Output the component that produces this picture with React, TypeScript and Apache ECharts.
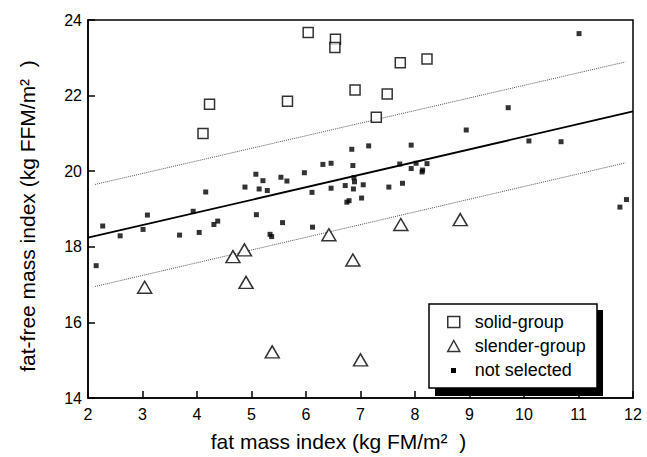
import React, { useEffect, useRef } from "react";
import * as echarts from "echarts";

const solidX = [6.04, 6.54, 6.53, 7.73, 8.22, 6.9, 7.49, 5.66, 7.29, 4.23, 4.11];
const solidY = [23.67, 23.49, 23.27, 22.87, 22.97, 22.15, 22.04, 21.85, 21.43, 21.77, 21.0];

const slenderX = [3.04, 4.66, 4.87, 4.9, 5.38, 6.42, 6.86, 7.0, 7.74, 8.83];
const slenderY = [16.93, 17.74, 17.92, 17.06, 15.22, 18.32, 17.65, 15.01, 18.59, 18.72];

const otherX = [
  2.15, 2.27, 2.59, 3.01, 3.09, 3.68, 3.93, 4.04, 4.16, 4.31, 4.38, 4.88, 5.08, 5.21, 5.14,
  5.29, 5.09, 5.34, 5.37, 5.54, 5.65, 5.57, 5.97, 6.11, 6.12, 6.31, 6.46, 6.46, 6.72, 6.84,
  6.86, 6.87, 6.88, 6.89, 6.75, 6.79, 7.02, 7.05, 7.15, 7.52, 7.72, 7.77, 7.93, 7.93, 8.02,
  8.13, 8.14, 8.22, 8.94, 9.71, 10.09, 10.68, 11.01, 11.76, 11.88,
];
const otherY = [
  17.5, 18.55, 18.29, 18.46, 18.84, 18.31, 18.94, 18.38, 19.45, 18.59, 18.68, 19.58, 19.92, 19.75, 19.53,
  19.49, 18.85, 18.33, 18.27, 19.84, 19.74, 18.64, 19.96, 19.44, 18.52, 20.18, 20.21, 19.55, 19.62, 20.58,
  20.15, 19.53, 19.83, 19.72, 19.18, 19.22, 19.29, 19.64, 20.67, 19.58, 20.19, 19.68, 20.69, 20.07, 20.21,
  19.98, 20.03, 20.2, 21.09, 21.68, 20.8, 20.78, 23.64, 19.05, 19.25,
];

const fitX = [2, 12];
const fitY = [18.24, 21.58];
const upperX = [2.13, 11.86];
const upperY = [19.65, 22.89];
const lowerX = [2.13, 11.86];
const lowerY = [16.95, 20.22];

const xTicks = [2, 3, 4, 5, 6, 7, 8, 9, 10, 11, 12];
const yTicks = [14, 16, 18, 20, 22, 24];

const seriesNames = ["solid-group", "slender-group", "not selected"];

const FONT = "'Liberation Sans', Arial, Helvetica, sans-serif";

const zip = (xs: number[], ys: number[]) => xs.map((x, i) => [x, ys[i]]);

export default function App() {
  const ref = useRef<HTMLDivElement>(null);
  useEffect(() => {
    if (!ref.current) return;
    const chart = echarts.init(ref.current, undefined, { renderer: "svg" });
    const hollow = { color: "#fff", borderColor: "#000", borderWidth: 1.5 };
    chart.setOption({
      animation: false,
      backgroundColor: "#fff",
      grid: {
        left: 88,
        right: 14,
        top: 20,
        bottom: 55,
        show: true,
        borderColor: "#000",
        borderWidth: 1.5,
        backgroundColor: "transparent",
      },
      xAxis: {
        type: "value",
        min: xTicks[0],
        max: xTicks[xTicks.length - 1],
        interval: 1,
        name: "fat mass index (kg FM/m\u00B2  )",
        nameLocation: "middle",
        nameGap: 33,
        nameTextStyle: { fontSize: 21, color: "#000", fontFamily: FONT, padding: [0, 44, 0, 0] },
        axisLine: { lineStyle: { color: "#000", width: 1.5 } },
        axisTick: { inside: true, length: 7, lineStyle: { color: "#000", width: 1.5 } },
        axisLabel: { fontSize: 16, color: "#000", fontFamily: FONT, margin: 8 },
        splitLine: { show: false },
      },
      yAxis: {
        type: "value",
        min: yTicks[0],
        max: yTicks[yTicks.length - 1],
        interval: 2,
        name: "fat-free mass index (kg FFM/m\u00B2  )",
        nameLocation: "middle",
        nameGap: 50,
        nameTextStyle: { fontSize: 21, color: "#000", fontFamily: FONT, padding: [0, 14, 0, 0] },
        axisLine: { lineStyle: { color: "#000", width: 1.5 } },
        axisTick: { inside: true, length: 7, lineStyle: { color: "#000", width: 1.5 } },
        axisLabel: { fontSize: 16, color: "#000", fontFamily: FONT, margin: 6 },
        splitLine: { show: false },
      },
      graphic: [
        { type: "rect", z: 10, shape: { x: 435, y: 310, width: 168, height: 86 }, style: { fill: "#000" } },
        {
          type: "rect",
          z: 11,
          shape: { x: 429, y: 304, width: 168, height: 84 },
          style: { fill: "#fff", stroke: "#000", lineWidth: 1.5 },
        },
        { type: "rect", z: 30, shape: { x: 451, y: 368, width: 5, height: 5 }, style: { fill: "#000" } },
      ],
      legend: {
        orient: "vertical",
        left: 447,
        top: 310,
        padding: 0,
        itemGap: 0,
        itemWidth: 12,
        itemHeight: 11,
        z: 20,
        textStyle: { fontSize: 18, color: "#000", fontFamily: FONT, lineHeight: 24, padding: [0, 0, 0, 10] },
        data: [
          { name: seriesNames[0], icon: "rect", itemStyle: hollow },
          { name: seriesNames[1], icon: "triangle", itemStyle: hollow },
          { name: seriesNames[2], icon: "none" },
        ],
      },
      series: [
        {
          type: "line",
          data: zip(fitX, fitY),
          symbol: "none",
          lineStyle: { color: "#000", width: 1.8 },
          silent: true,
          z: 1,
        },
        {
          type: "line",
          data: zip(upperX, upperY),
          symbol: "none",
          lineStyle: { color: "#555", width: 1, type: "dotted" },
          silent: true,
          z: 1,
        },
        {
          type: "line",
          data: zip(lowerX, lowerY),
          symbol: "none",
          lineStyle: { color: "#555", width: 1, type: "dotted" },
          silent: true,
          z: 1,
        },
        {
          name: seriesNames[0],
          type: "scatter",
          data: zip(solidX, solidY),
          symbol: "rect",
          symbolSize: 10,
          itemStyle: hollow,
          z: 3,
        },
        {
          name: seriesNames[1],
          type: "scatter",
          data: zip(slenderX, slenderY),
          symbol: "triangle",
          symbolSize: [14, 12],
          itemStyle: hollow,
          z: 3,
        },
        {
          name: seriesNames[2],
          type: "scatter",
          data: zip(otherX, otherY),
          symbol: "rect",
          symbolSize: 5,
          itemStyle: { color: "#000" },
          z: 3,
        },
      ],
    });
    return () => chart.dispose();
  }, []);
  return (
    <div
      ref={ref}
      style={{ position: "fixed", left: 0, top: 0, width: 647, height: 457, background: "#fff" }}
    />
  );
}
